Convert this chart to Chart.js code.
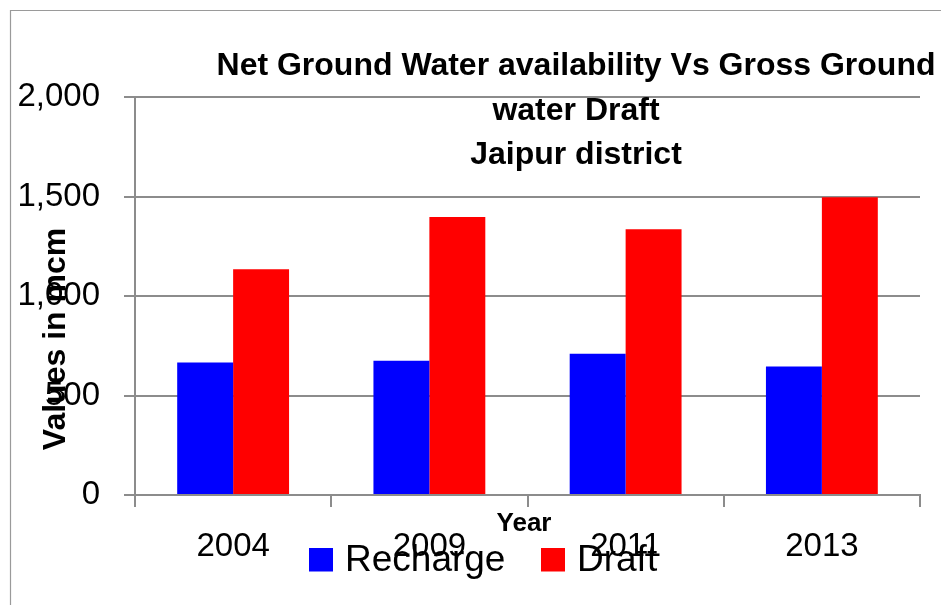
<!DOCTYPE html>
<html>
<head>
<meta charset="utf-8">
<script src="https://cdn.jsdelivr.net/npm/chart.js@4/dist/chart.umd.min.js"></script>
<style>
  html, body { margin: 0; padding: 0; background: #fff; }
  #wrap { width: 941px; height: 605px; }
</style>
</head>
<body>
<div id="wrap"><canvas id="c" width="941" height="605"></canvas></div>
<script>
const categories = ['2004', '2009', '2011', '2013'];
const rechargeValues = [666, 674, 710, 646];
const draftValues = [1135, 1397, 1336, 1496];
const seriesNames = ['Recharge', 'Draft'];
const seriesColors = ['#0000FF', '#FF0000'];
const yMin = 0, yMax = 2000, yStep = 500;
const titleLines = ['Net Ground Water availability Vs Gross Ground', 'water Draft', 'Jaipur district'];
const yAxisTitle = 'Values in mcm';
const xAxisTitle = 'Year';

const FONT = '"Liberation Sans", Arial, sans-serif';
const GRID = '#8c8c8c';

const overlay = {
  id: 'overlay',
  beforeDraw(chart) {
    const ctx = chart.ctx;
    ctx.save();
    ctx.strokeStyle = '#9a9a9a';
    ctx.lineWidth = 1.2;
    ctx.beginPath();
    ctx.moveTo(10.5, 605);
    ctx.lineTo(10.5, 10.5);
    ctx.lineTo(941, 10.5);
    ctx.stroke();
    ctx.restore();
  },
  afterDraw(chart) {
    const ctx = chart.ctx;
    ctx.save();
    ctx.fillStyle = '#000';
    ctx.textAlign = 'center';
    ctx.textBaseline = 'alphabetic';
    ctx.font = 'bold 32px ' + FONT;
    const baselines = [75, 120, 164];
    titleLines.forEach((t, i) => ctx.fillText(t, 576, baselines[i]));

    // y axis title
    ctx.save();
    ctx.translate(65, 339);
    ctx.rotate(-Math.PI / 2);
    ctx.font = 'bold 32px ' + FONT;
    ctx.fillText(yAxisTitle, 0, 0);
    ctx.restore();

    // x axis title
    ctx.font = 'bold 26px ' + FONT;
    ctx.fillText(xAxisTitle, 524, 531);

    // legend
    ctx.font = '37px ' + FONT;
    ctx.textAlign = 'left';
    const legendX = [309, 541];
    chart.data.datasets.forEach((ds, i) => {
      ctx.fillStyle = ds.backgroundColor;
      ctx.fillRect(legendX[i], 548, 24, 23.5);
      ctx.fillStyle = '#000';
      ctx.fillText(ds.label, legendX[i] + 36, 570.5);
    });
    ctx.restore();
  }
};

new Chart(document.getElementById('c'), {
  type: 'bar',
  data: {
    labels: categories,
    datasets: [
      { label: seriesNames[0], data: rechargeValues, backgroundColor: seriesColors[0], borderWidth: 0 },
      { label: seriesNames[1], data: draftValues, backgroundColor: seriesColors[1], borderWidth: 0 }
    ]
  },
  options: {
    responsive: false,
    devicePixelRatio: 1,
    animation: false,
    layout: { padding: { top: 97, right: 21, left: 0, bottom: 0 } },
    plugins: {
      legend: { display: false },
      title: { display: false },
      tooltip: { enabled: false }
    },
    datasets: { bar: { categoryPercentage: 0.57, barPercentage: 1.0 } },
    scales: {
      x: {
        offset: true,
        grid: { display: true, drawOnChartArea: false, drawTicks: true, tickLength: 12, offset: true, color: GRID, lineWidth: 2 },
        border: { display: true, color: GRID, width: 2 },
        ticks: { color: '#000', font: { family: FONT, size: 33 }, padding: 20, maxRotation: 0 },
        afterFit(scale) { scale.height = 110; }
      },
      y: {
        min: yMin, max: yMax,
        grid: { color: GRID, lineWidth: 2, tickLength: 11, drawTicks: true },
        border: { display: true, color: GRID, width: 2 },
        ticks: { stepSize: yStep, color: '#000', font: { family: FONT, size: 33 }, padding: 24 },
        afterFit(scale) { scale.width = 135; }
      }
    }
  },
  plugins: [overlay]
});
</script>
</body>
</html>
